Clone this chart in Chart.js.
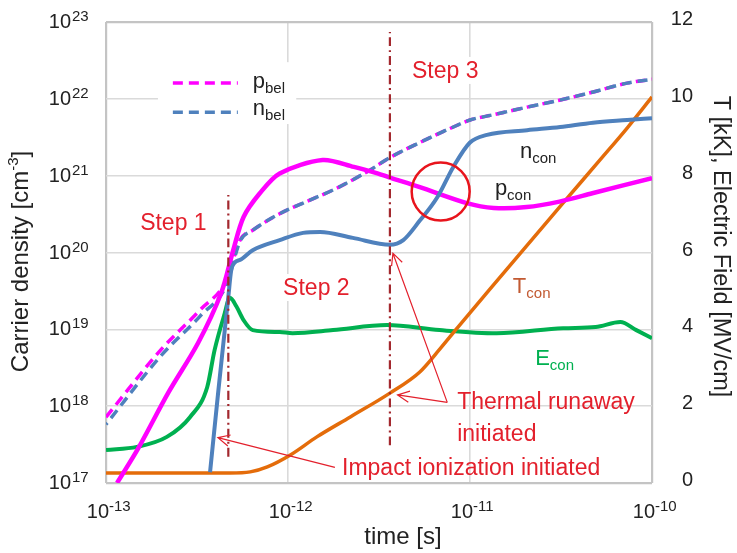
<!DOCTYPE html>
<html>
<head>
<meta charset="utf-8">
<script src="https://cdn.jsdelivr.net/npm/chart.js@4.4.1/dist/chart.umd.min.js"></script>
<style>
  html, body { margin: 0; padding: 0; background: #fff; }
  #wrap { width: 737px; height: 553px; }
</style>
</head>
<body>
<div id="wrap"><canvas id="carrierChart"></canvas></div>
<script>
// axis ticks (powers of ten for the log axes)
const xTickExps = [-13, -12, -11, -10];
const yTickExps = [17, 18, 19, 20, 21, 22, 23];
const y2Ticks = [0, 2, 4, 6, 8, 10, 12];

// p_bel / n_bel (dashed), carrier density [cm-3]
const pbelT = [1e-13, 2e-13, 3.3e-13, 4.6e-13, 5.45e-13, 6.4e-13, 9e-13, 1.21e-12, 1.86e-12, 2.8e-12, 3.6e-12, 5.3e-12, 8.1e-12, 1e-11, 1.34e-11, 2.06e-11, 3.1e-11, 4.7e-11, 7.3e-11, 1e-10];
const pbelV = [7.2e17, 5.4e18, 1.8e19, 4.4e19, 1.45e20, 1.95e20, 3.2e20, 4.4e20, 6.9e20, 1.17e21, 1.7e21, 2.7e21, 4.3e21, 5.3e21, 6.2e21, 7.8e21, 9.6e21, 1.22e22, 1.6e22, 1.8e22];
const nbelT = [1e-13, 2e-13, 3.3e-13, 4.6e-13, 5.45e-13, 6.4e-13, 9e-13, 1.21e-12, 1.86e-12, 2.8e-12, 3.6e-12, 5.3e-12, 8.1e-12, 1e-11, 1.34e-11, 2.06e-11, 3.1e-11, 4.7e-11, 7.3e-11, 1e-10];
const nbelV = [5.8e17, 4.5e18, 1.5e19, 3.8e19, 1.4e20, 1.95e20, 3.2e20, 4.4e20, 6.9e20, 1.17e21, 1.7e21, 2.7e21, 4.3e21, 5.3e21, 6.2e21, 7.8e21, 9.6e21, 1.22e22, 1.6e22, 1.8e22];

// p_con / n_con (solid)
const pconT = [1.15e-13, 1.5e-13, 2.2e-13, 3.2e-13, 4.3e-13, 5e-13, 5.7e-13, 7e-13, 9e-13, 1.55e-12, 2.3e-12, 3.1e-12, 3.6e-12, 5.3e-12, 9.6e-12, 1.35e-11, 2.05e-11, 3.1e-11, 4.7e-11, 1e-10];
const pconV = [1.0e17, 2.8e17, 1.5e18, 6.6e18, 3.0e19, 1.07e20, 2.9e20, 5.9e20, 1.07e21, 1.6e21, 1.3e21, 1.07e21, 9.5e20, 7.1e20, 4.4e20, 3.8e20, 3.9e20, 4.6e20, 5.9e20, 9.3e20];
const nconT = [3.73e-13, 4.12e-13, 4.45e-13, 4.68e-13, 4.92e-13, 5.45e-13, 6.4e-13, 9e-13, 1.21e-12, 1.5e-12, 2.27e-12, 3.63e-12, 4.3e-12, 5.3e-12, 6.6e-12, 8.1e-12, 1e-11, 1.24e-11, 2.06e-11, 3.13e-11, 4.74e-11, 7.3e-11, 1e-10];
const nconV = [1.38e17, 1.4e18, 7.9e18, 2.4e19, 6.5e19, 8e19, 1.07e20, 1.45e20, 1.8e20, 1.85e20, 1.55e20, 1.26e20, 1.45e20, 2.6e20, 5.2e20, 1.3e21, 2.7e21, 3.4e21, 3.9e21, 4.3e21, 4.9e21, 5.3e21, 5.6e21];

// E_con [MV/cm] and T_con [kK], right axis
const econT = [1e-13, 1.48e-13, 2.16e-13, 2.9e-13, 3.6e-13, 3.95e-13, 4.45e-13, 4.8e-13, 5.2e-13, 5.7e-13, 6.4e-13, 9e-13, 1.06e-12, 1.77e-12, 3.5e-12, 6.8e-12, 1.4e-11, 3.25e-11, 4.9e-11, 6.7e-11, 8.2e-11, 1e-10];
const econV = [0.86, 0.94, 1.2, 1.72, 2.5, 3.46, 4.35, 4.82, 4.6, 4.24, 3.98, 3.93, 3.9, 3.98, 4.11, 3.98, 3.9, 4.03, 4.06, 4.19, 3.98, 3.77];
const tconT = [1e-13, 3e-13, 4.8e-13, 6.2e-13, 7.7e-13, 1.03e-12, 1.44e-12, 2.2e-12, 3.63e-12, 5.3e-12, 6.84e-12, 8.5e-12, 1.29e-11, 3.25e-11, 5.18e-11, 7.3e-11, 1e-10];
const tconV = [0.26, 0.26, 0.26, 0.29, 0.42, 0.73, 1.2, 1.72, 2.34, 2.89, 3.49, 4.03, 5.05, 7.29, 8.41, 9.24, 10.05];

// step markers (dash-dot verticals) and the highlighted crossing
const stepTimes = [4.7e-13, 3.63e-12];
const stepLow = [2.2e17, 3.1e17];
const stepHigh = [5.6e20, 7.4e22];
const circleT = 6.9e-12;
const circleV = 6.2e20;

// annotation anchors in data units [time, density]
const spots = {
  step1: [1.54e-13, 1.96e20], step2: [9.4e-13, 2.8e19], step3: [4.8e-12, 1.87e22],
  ncon: [1.88e-11, 1.7e21], pcon: [1.37e-11, 5.6e20], tcon: [1.72e-11, 2.97e19], econ: [2.28e-11, 3.4e18],
  pbel: [6.4e-13, 1.38e22], nbel: [6.4e-13, 6.2e21],
  thermal1: [8.5e-12, 9.2e17], thermal2: [8.5e-12, 3.5e17], impact: [1.98e-12, 1.27e17],
  legendA: [2.33e-13, 5.3e-13], legendY: [1.61e22, 6.7e21], legendBox: [1.93e-13, 1.11e-12, 3.0e22, 4.7e21],
};
const arrows = [
  [[7.5e-12, 1.12e18], [3.77e-12, 9.8e19]],
  [[7.5e-12, 1.12e18], [4.0e-12, 1.4e18]],
  [[1.81e-12, 1.6e17], [4.12e-13, 3.9e17]],
];

const FONT = "'Liberation Sans', Arial, sans-serif";
const MAGENTA = "#ff00ff", BLUE = "#4f81bd", GREEN = "#00b050", ORANGE = "#e46c0a";
const RED = "#e3202c", STEPRED = "#a3282e";

const pts = (t, v) => t.map((x, i) => ({ x: x, y: v[i] }));

function subText(ctx, x, y, base, sub, color) {
  ctx.fillStyle = color;
  ctx.font = "22px " + FONT;
  ctx.textAlign = "left";
  ctx.textBaseline = "alphabetic";
  ctx.fillText(base, x, y);
  const w = ctx.measureText(base).width;
  ctx.font = "15px " + FONT;
  ctx.fillText(sub, x + w, y + 5);
}

function drawArrow(ctx, x0, y0, x1, y1) {
  const a = Math.atan2(y1 - y0, x1 - x0);
  ctx.beginPath();
  ctx.moveTo(x0, y0);
  ctx.lineTo(x1, y1);
  ctx.moveTo(x1 - 13 * Math.cos(a - 0.45), y1 - 13 * Math.sin(a - 0.45));
  ctx.lineTo(x1, y1);
  ctx.lineTo(x1 - 13 * Math.cos(a + 0.45), y1 - 13 * Math.sin(a + 0.45));
  ctx.stroke();
}

const decor = {
  id: "decor",
  beforeDatasetsDraw(chart) {
    const { ctx, scales: { x, y } } = chart;
    ctx.save();
    ctx.fillStyle = "#fff";
    const b = spots.legendBox;
    const bx0 = x.getPixelForValue(b[0]), bx1 = x.getPixelForValue(b[1]);
    const by0 = y.getPixelForValue(b[2]), by1 = y.getPixelForValue(b[3]);
    ctx.fillRect(bx0, by0, bx1 - bx0, by1 - by0);
    ctx.font = "23px " + FONT;
    [["Step 1", spots.step1], ["Step 2", spots.step2], ["Step 3", spots.step3]].forEach(([s, p]) => {
      const px = x.getPixelForValue(p[0]), py = y.getPixelForValue(p[1]);
      const w = ctx.measureText(s).width;
      ctx.fillRect(px - 3, py - 21, w + 6, 27);
    });
    ctx.restore();
  },
  afterDatasetsDraw(chart) {
    const { ctx, scales: { x, y } } = chart;
    const X = (t) => x.getPixelForValue(t), Y = (v) => y.getPixelForValue(v);
    ctx.save();
    // legend swatches
    ctx.lineWidth = 3.5;
    ctx.setLineDash([10, 6]);
    [[MAGENTA, spots.legendY[0]], [BLUE, spots.legendY[1]]].forEach(([c, v]) => {
      ctx.strokeStyle = c;
      ctx.beginPath();
      ctx.moveTo(X(spots.legendA[0]), Y(v));
      ctx.lineTo(X(spots.legendA[1]), Y(v));
      ctx.stroke();
    });
    ctx.setLineDash([]);
    subText(ctx, X(spots.pbel[0]), Y(spots.pbel[1]), "p", "bel", "#222");
    subText(ctx, X(spots.nbel[0]), Y(spots.nbel[1]), "n", "bel", "#222");
    subText(ctx, X(spots.ncon[0]), Y(spots.ncon[1]), "n", "con", "#222");
    subText(ctx, X(spots.pcon[0]), Y(spots.pcon[1]), "p", "con", "#222");
    subText(ctx, X(spots.tcon[0]), Y(spots.tcon[1]), "T", "con", "#c25a32");
    subText(ctx, X(spots.econ[0]), Y(spots.econ[1]), "E", "con", GREEN);

    ctx.fillStyle = RED;
    ctx.font = "23px " + FONT;
    ctx.textAlign = "left";
    ctx.textBaseline = "alphabetic";
    [["Step 1", spots.step1], ["Step 2", spots.step2], ["Step 3", spots.step3],
     ["Thermal runaway", spots.thermal1], ["initiated", spots.thermal2],
     ["Impact ionization initiated", spots.impact]].forEach(([s, p]) => {
      ctx.fillText(s, X(p[0]), Y(p[1]));
    });

    ctx.strokeStyle = RED;
    ctx.lineWidth = 1.2;
    arrows.forEach(([a, b]) => drawArrow(ctx, X(a[0]), Y(a[1]), X(b[0]), Y(b[1])));
    ctx.restore();
  },
  afterDraw(chart) {
    const { ctx, chartArea: ca, scales: { x, y, y2 } } = chart;
    const midY = (ca.top + ca.bottom) / 2;
    ctx.save();
    ctx.fillStyle = "#222";
    ctx.textBaseline = "alphabetic";
    // left ticks
    yTickExps.forEach((e) => {
      const py = y.getPixelForValue(Math.pow(10, e));
      ctx.font = "20px " + FONT;
      ctx.textAlign = "right";
      ctx.fillText("10", ca.left - 35, py + 6);
      ctx.font = "15px " + FONT;
      ctx.textAlign = "left";
      ctx.fillText(String(e), ca.left - 34, py - 1);
    });
    // bottom ticks
    xTickExps.forEach((e) => {
      const px = x.getPixelForValue(Math.pow(10, e));
      ctx.font = "20px " + FONT;
      ctx.textAlign = "right";
      ctx.fillText("10", px + 3, 518);
      ctx.font = "15px " + FONT;
      ctx.textAlign = "left";
      ctx.fillText(String(e), px + 3, 511);
    });
    // right ticks
    ctx.font = "20px " + FONT;
    ctx.textAlign = "right";
    y2Ticks.forEach((v) => {
      ctx.fillText(String(v), ca.right + 41, y2.getPixelForValue(v) + 3);
    });
    // x title
    ctx.font = "24px " + FONT;
    ctx.textAlign = "center";
    ctx.textBaseline = "middle";
    ctx.fillText("time [s]", 403, 537);
    // left title with superscript
    ctx.save();
    ctx.translate(21, midY + 9);
    ctx.rotate(-Math.PI / 2);
    ctx.textAlign = "left";
    ctx.textBaseline = "middle";
    ctx.font = "24px " + FONT;
    const a = "Carrier density [cm", b = "-3", c = "]";
    const wa = ctx.measureText(a).width, wc = ctx.measureText(c).width;
    ctx.font = "15px " + FONT;
    const wb = ctx.measureText(b).width;
    const sx = -(wa + wb + wc) / 2;
    ctx.font = "24px " + FONT;
    ctx.fillText(a, sx, 0);
    ctx.font = "15px " + FONT;
    ctx.fillText(b, sx + wa, -7);
    ctx.font = "24px " + FONT;
    ctx.fillText(c, sx + wa + wb, 0);
    ctx.restore();
    // right title
    ctx.save();
    ctx.translate(720, midY - 6);
    ctx.rotate(Math.PI / 2);
    ctx.textAlign = "center";
    ctx.textBaseline = "middle";
    ctx.font = "23.5px " + FONT;
    ctx.fillText("T [kK], Electric Field [MV/cm]", 0, 0);
    ctx.restore();
    ctx.restore();
  },
};

const edge = (c) => c.index === 0 || c.index === c.chart.scales[c.scale.id].ticks.length - 1;
const gridColor = (c) => edge(c) ? "#c4c4c4" : "#dadada";
const gridWidth = (c) => edge(c) ? 2.2 : 1.6;

const ctx = document.getElementById("carrierChart").getContext("2d");

const carrierChart = new Chart(ctx, {
  type: "line",
  data: {
    datasets: [
      { data: pts(pbelT, pbelV), borderColor: MAGENTA, borderWidth: 3.5, borderDash: [10, 6], yAxisID: "y", order: 8 },
      { data: pts(nbelT, nbelV), borderColor: BLUE, borderWidth: 3.5, borderDash: [10, 6], borderDashOffset: 8, yAxisID: "y", order: 7 },
      { data: pts(econT, econV), borderColor: GREEN, borderWidth: 4, yAxisID: "y2", order: 6 },
      { data: pts(tconT, tconV), borderColor: ORANGE, borderWidth: 3.5, yAxisID: "y2", order: 5 },
      { data: pts(pconT, pconV), borderColor: MAGENTA, borderWidth: 4.5, yAxisID: "y", order: 4, cubicInterpolationMode: "default", tension: 0.3 },
      { data: pts(nconT, nconV), borderColor: BLUE, borderWidth: 4, yAxisID: "y", order: 3 },
      { data: [{ x: stepTimes[0], y: stepLow[0] }, { x: stepTimes[0], y: stepHigh[0] }], borderColor: STEPRED, borderWidth: 2.2, borderDash: [9, 4, 2, 4], yAxisID: "y", order: 2, tension: 0 },
      { data: [{ x: stepTimes[1], y: stepLow[1] }, { x: stepTimes[1], y: stepHigh[1] }], borderColor: STEPRED, borderWidth: 2.2, borderDash: [9, 4, 2, 4], yAxisID: "y", order: 2, tension: 0 },
      { data: [{ x: circleT, y: circleV }], showLine: false, pointRadius: 29, pointBorderWidth: 2.5, pointBorderColor: "#e8141c", pointBackgroundColor: "rgba(0,0,0,0)", yAxisID: "y", order: 1 },
    ],
  },
  options: {
    responsive: true,
    maintainAspectRatio: false,
    animation: false,
    devicePixelRatio: 1,
    events: [],
    layout: { autoPadding: false, padding: { top: 22, left: 0, right: 0, bottom: 0 } },
    elements: {
      point: { radius: 0 },
      line: { cubicInterpolationMode: "monotone", borderCapStyle: "butt" },
    },
    plugins: { legend: { display: false }, tooltip: { enabled: false } },
    scales: {
      x: {
        type: "logarithmic",
        min: 1e-13,
        max: 1e-10,
        afterBuildTicks: (s) => { s.ticks = xTickExps.map((e) => ({ value: Math.pow(10, e) })); },
        afterFit: (s) => { s.height = 70; },
        ticks: { display: false },
        grid: { color: gridColor, lineWidth: gridWidth, drawTicks: false },
        border: { display: false },
      },
      y: {
        type: "logarithmic",
        position: "left",
        min: 1e17,
        max: 1e23,
        afterBuildTicks: (s) => { s.ticks = yTickExps.map((e) => ({ value: Math.pow(10, e) })); },
        afterFit: (s) => { s.width = 106; },
        ticks: { display: false },
        grid: { color: gridColor, lineWidth: gridWidth, drawTicks: false },
        border: { display: false },
      },
      y2: {
        type: "linear",
        position: "right",
        min: 0,
        max: 12,
        afterBuildTicks: (s) => { s.ticks = y2Ticks.map((v) => ({ value: v })); },
        afterFit: (s) => { s.width = 85; },
        ticks: { display: false },
        grid: { display: false, drawTicks: false },
        border: { display: false },
      },
    },
  },
  plugins: [decor],
});
</script>
</body>
</html>
